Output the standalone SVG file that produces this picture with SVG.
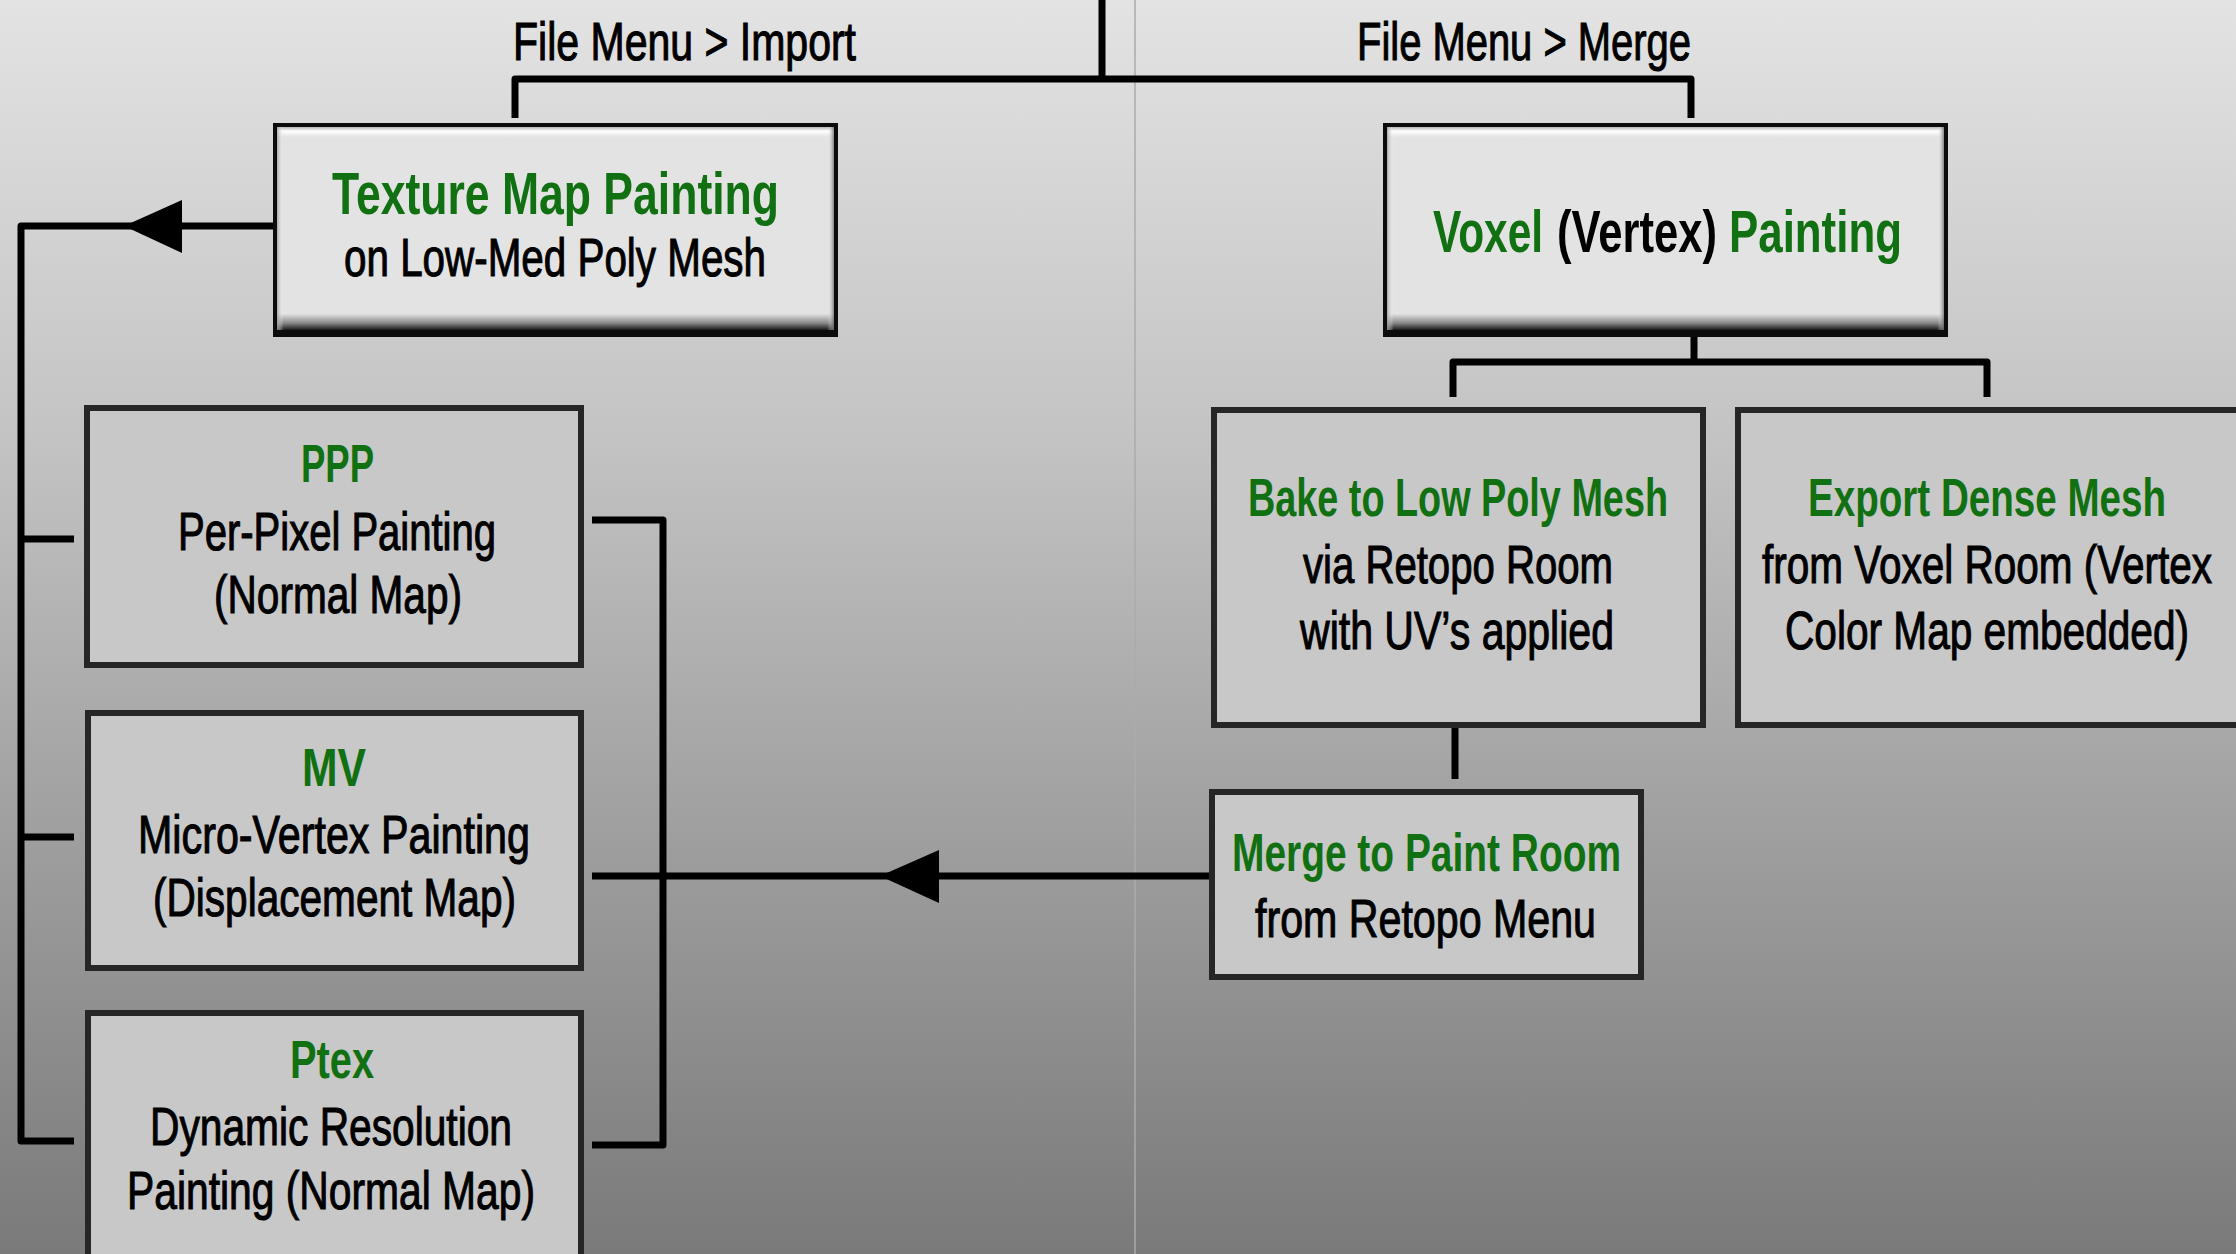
<svg xmlns="http://www.w3.org/2000/svg" width="2236" height="1254" viewBox="0 0 2236 1254">
  <defs>
    <linearGradient id="bg" x1="0" y1="0" x2="0" y2="1">
      <stop offset="0" stop-color="#e3e3e3"/>
      <stop offset="0.35" stop-color="#c3c3c3"/>
      <stop offset="0.7" stop-color="#9b9b9b"/>
      <stop offset="1" stop-color="#7a7a7a"/>
    </linearGradient>
    <!-- bevelled face of the two main boxes -->
    <linearGradient id="bevelV" x1="0" y1="0" x2="0" y2="1">
      <stop offset="0" stop-color="#b5b5b5"/>
      <stop offset="0.02" stop-color="#ffffff"/>
      <stop offset="0.05" stop-color="#e3e3e3"/>
      <stop offset="0.92" stop-color="#e3e3e3"/>
      <stop offset="0.965" stop-color="#8a8a8a"/>
      <stop offset="1" stop-color="#1a1a1a"/>
    </linearGradient>
    <linearGradient id="bevelH" x1="0" y1="0" x2="1" y2="0">
      <stop offset="0" stop-color="#9a9a9a" stop-opacity="0.8"/>
      <stop offset="0.012" stop-color="#ffffff" stop-opacity="0"/>
      <stop offset="0.988" stop-color="#ffffff" stop-opacity="0"/>
      <stop offset="1" stop-color="#6a6a6a" stop-opacity="0.8"/>
    </linearGradient>
  </defs>
  <style>
    .t { font-family: "Liberation Sans Narrow", "Liberation Sans", Arial, sans-serif; fill: #000; stroke: #000; stroke-width: 1.1; }
    .g { fill: #117011; stroke: none; font-weight: bold; }
    .b { stroke: none; font-weight: bold; }
    .big { font-size: 60px; }
    .mid { font-size: 54px; }
    .lbl { font-size: 54px; }
    .wire { fill: none; stroke: #000; stroke-width: 7; stroke-linejoin: round; stroke-linecap: butt; }
    .head { fill: #000; }
    .box { fill: #c8c8c8; stroke: #262626; stroke-width: 6; }
    .outer { fill: #0c0c0c; }
  </style>

  <rect x="0" y="0" width="2236" height="1254" fill="url(#bg)"/>
  <line x1="1135" y1="0" x2="1135" y2="1254" stroke="#ababab" stroke-width="1.5"/>

  <!-- connectors -->
  <g id="connectors">
    <path class="wire" d="M1102,0 V79"/>
    <path class="wire" d="M515,118 V79 H1691 V118"/>
    <text class="t lbl" x="513" y="60" textLength="343" lengthAdjust="spacingAndGlyphs">File Menu &gt; Import</text>
    <text class="t lbl" x="1357" y="60" textLength="334" lengthAdjust="spacingAndGlyphs">File Menu &gt; Merge</text>

    <path class="wire" d="M273,226 H21 V1141 H74"/>
    <path class="wire" d="M21,539 H74"/>
    <path class="wire" d="M21,837 H74"/>
    <polygon class="head" points="124,226 182,200 182,253"/>

    <path class="wire" d="M592,520 H663 V1145 H592"/>
    <path class="wire" d="M592,876 H1209"/>
    <polygon class="head" points="880,876 939,850 939,903"/>

    <path class="wire" d="M1694,337 V362"/>
    <path class="wire" d="M1453,397 V362 H1987 V397"/>
    <path class="wire" d="M1455,727 V779"/>
  </g>

  <!-- main nodes -->
  <g id="texture-map">
    <rect class="outer" x="273" y="123" width="565" height="214"/>
    <rect x="277" y="127" width="557" height="203" fill="url(#bevelV)"/>
    <rect x="277" y="127" width="557" height="203" fill="url(#bevelH)"/>
    <text class="t g big" x="332" y="214" textLength="447" lengthAdjust="spacingAndGlyphs">Texture Map Painting</text>
    <text class="t mid" x="344" y="276" textLength="422" lengthAdjust="spacingAndGlyphs">on Low-Med Poly Mesh</text>
  </g>

  <g id="voxel">
    <rect class="outer" x="1383" y="123" width="565" height="214"/>
    <rect x="1387" y="127" width="557" height="203" fill="url(#bevelV)"/>
    <rect x="1387" y="127" width="557" height="203" fill="url(#bevelH)"/>
    <text class="t g big" x="1433" y="252" textLength="110" lengthAdjust="spacingAndGlyphs">Voxel</text>
    <text class="t b big" x="1557" y="252" textLength="160" lengthAdjust="spacingAndGlyphs">(Vertex)</text>
    <text class="t g big" x="1729" y="252" textLength="173" lengthAdjust="spacingAndGlyphs">Painting</text>
  </g>

  <!-- painting modes -->
  <g id="ppp">
    <rect class="box" x="87" y="408" width="494" height="257"/>
    <text class="t g mid" x="301" y="482" textLength="73" lengthAdjust="spacingAndGlyphs">PPP</text>
    <text class="t mid" x="178" y="550" textLength="318" lengthAdjust="spacingAndGlyphs">Per-Pixel Painting</text>
    <text class="t mid" x="214" y="613" textLength="248" lengthAdjust="spacingAndGlyphs">(Normal Map)</text>
  </g>

  <g id="mv">
    <rect class="box" x="88" y="713" width="493" height="255"/>
    <text class="t g mid" x="302" y="786" textLength="64" lengthAdjust="spacingAndGlyphs">MV</text>
    <text class="t mid" x="138" y="853" textLength="392" lengthAdjust="spacingAndGlyphs">Micro-Vertex Painting</text>
    <text class="t mid" x="153" y="916" textLength="363" lengthAdjust="spacingAndGlyphs">(Displacement Map)</text>
  </g>

  <g id="ptex">
    <rect class="box" x="88" y="1013" width="493" height="270"/>
    <text class="t g mid" x="290" y="1078" textLength="84" lengthAdjust="spacingAndGlyphs">Ptex</text>
    <text class="t mid" x="150" y="1145" textLength="362" lengthAdjust="spacingAndGlyphs">Dynamic Resolution</text>
    <text class="t mid" x="127" y="1209" textLength="408" lengthAdjust="spacingAndGlyphs">Painting (Normal Map)</text>
  </g>

  <!-- voxel outputs -->
  <g id="bake">
    <rect class="box" x="1214" y="410" width="489" height="315"/>
    <text class="t g mid" x="1248" y="516" textLength="420" lengthAdjust="spacingAndGlyphs">Bake to Low Poly Mesh</text>
    <text class="t mid" x="1303" y="583" textLength="310" lengthAdjust="spacingAndGlyphs">via Retopo Room</text>
    <text class="t mid" x="1300" y="649" textLength="314" lengthAdjust="spacingAndGlyphs">with UV’s applied</text>
  </g>

  <g id="export">
    <rect class="box" x="1738" y="410" width="520" height="315"/>
    <text class="t g mid" x="1808" y="516" textLength="358" lengthAdjust="spacingAndGlyphs">Export Dense Mesh</text>
    <text class="t mid" x="1762" y="583" textLength="450" lengthAdjust="spacingAndGlyphs">from Voxel Room (Vertex</text>
    <text class="t mid" x="1785" y="649" textLength="404" lengthAdjust="spacingAndGlyphs">Color Map embedded)</text>
  </g>

  <g id="merge">
    <rect class="box" x="1212" y="792" width="429" height="185"/>
    <text class="t g mid" x="1232" y="871" textLength="389" lengthAdjust="spacingAndGlyphs">Merge to Paint Room</text>
    <text class="t mid" x="1255" y="937" textLength="341" lengthAdjust="spacingAndGlyphs">from Retopo Menu</text>
  </g>
</svg>
